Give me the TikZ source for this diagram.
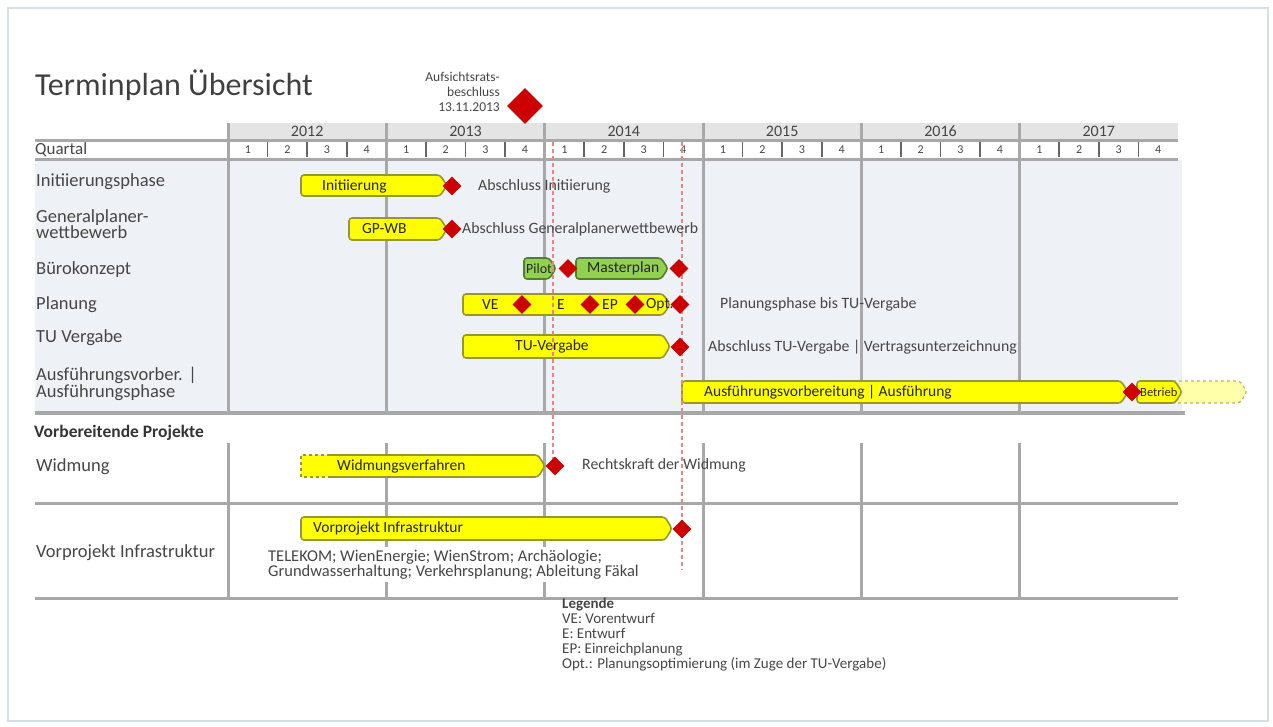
\documentclass[tikz,border=0pt]{standalone}
\usepackage{fontspec}
\setmainfont{Carlito}
\usetikzlibrary{shapes.geometric}

\definecolor{barfill}{RGB}{255,255,0}
\definecolor{barline}{RGB}{150,150,50}
\definecolor{openfill}{RGB}{255,255,170}
\definecolor{greenfill}{RGB}{146,208,80}
\definecolor{greenline}{RGB}{85,125,45}
\definecolor{msred}{RGB}{204,0,0}
\definecolor{gridgray}{RGB}{168,168,168}
\definecolor{panel}{RGB}{238,242,247}
\definecolor{headgray}{RGB}{228,228,228}
\definecolor{txt}{RGB}{70,70,70}
\definecolor{dashred}{RGB}{228,135,135}
\definecolor{framecol}{RGB}{212,222,230}

\tikzset{
  rowlabel/.style={anchor=west, align=left, inner sep=0pt, text=txt,
    font=\fontsize{18.5}{16}\selectfont},
  bartext/.style={anchor=west, inner sep=0pt, text=black!85,
    font=\fontsize{15.5}{16}\selectfont},
  note/.style={anchor=west, align=left, inner sep=0pt, text=txt,
    font=\fontsize{15.8}{15}\selectfont},
  yearlabel/.style={inner sep=0pt, text=txt, font=\fontsize{16}{16}\selectfont},
  qlabel/.style={inner sep=0pt, text=txt, font=\fontsize{12}{12}\selectfont},
  gridline/.style={gridgray, line width=3pt},
  qtick/.style={black!60, line width=1.6pt},
  yellowbar/.style={fill=barfill, draw=barline, line width=1.6pt, rounded corners=3},
  greenbar/.style={fill=greenfill, draw=greenline, line width=1.6pt, rounded corners=3},
  openbar/.style={fill=openfill, draw=barline!70, line width=1.2pt, dashed, rounded corners=3},
  milestone/.style={diamond, fill=msred, minimum size=19pt, inner sep=0pt},
  dashline/.style={dashred, line width=2pt, dash pattern=on 4pt off 3pt}
}

% bar with a blunt arrow end: [style] x-start, x-end, y-top, y-bottom
\newcommand{\taskbar}[5][yellowbar]{%
  \draw[#1] (#2,#4) -- ({#3-7},#4) -- (#3,{(#4+#5)/2}) -- ({#3-7},#5) -- (#2,#5) -- cycle;}

\begin{document}
\begin{tikzpicture}[x=1pt,y=-1pt]
  \def\Left{35}      % left edge of the table
  \def\Xzero{228}    % start of 2012
  \def\Yw{158.33}    % width of one year
  \def\Right{1178}   % end of 2017
  \useasboundingbox (0,0) rectangle (1273,726);
  \draw[framecol, line width=2pt] (8,8) rectangle (1268,721);

  % title and supervisory board decision
  \node[anchor=west, inner sep=0pt, text=black!75, font=\fontsize{32}{34}\selectfont]
    (title) at (35,85) {Terminplan Übersicht};
  \node[anchor=east, align=right, inner sep=0pt, text=txt, font=\fontsize{13.5}{15}\selectfont]
    (arText) at (500,92) {Aufsichtsrats-\\beschluss\\13.11.2013};

  % backgrounds
  \fill[panel] (\Left,160) rectangle (1182,411);
  \fill[headgray] (\Xzero,123) rectangle (\Right,140);

  % years and quarters
  \node[anchor=west, inner sep=0pt, text=txt, font=\fontsize{17}{16}\selectfont]
    (quartal) at (35,149.5) {Quartal};
  \foreach \y [count=\k from 0] in {2012,...,2017} {
    \node[yearlabel] (year\y) at ({\Xzero+(\k+0.5)*\Yw},131) {\y};
    \foreach \q in {1,...,4} {
      \node[qlabel] (q\y-\q) at ({\Xzero+\k*\Yw+(\q-0.5)*\Yw/4},149.5) {\q};
    }
    \foreach \q in {1,2,3} {
      \draw[qtick] ({\Xzero+\k*\Yw+\q*\Yw/4},142) -- ++(0,15);
    }
  }

  % grid
  \draw[gridline] (\Left,140.5) -- (\Right,140.5);
  \draw[gridline] (\Left,159) -- (\Right,159);
  \draw[gridline, line width=4pt] (\Left,413) -- (1185,413);
  \draw[gridline] (\Left,503) -- (\Right,503);
  \draw[gridline] (\Left,598) -- (\Right,598);
  \foreach \k in {0,...,5} {
    \draw[gridline] ({\Xzero+\k*\Yw},123) -- ({\Xzero+\k*\Yw},411);
    \draw[gridline] ({\Xzero+\k*\Yw},443) -- ({\Xzero+\k*\Yw},600);
  }

  % row labels
  \node[rowlabel] (lInit) at (36,182) {Initiierungsphase};
  \node[rowlabel] (lGP) at (36,224.5) {Generalplaner-\\wettbewerb};
  \node[rowlabel] (lBuero) at (36,270) {Bürokonzept};
  \node[rowlabel] (lPlan) at (36,305) {Planung};
  \node[rowlabel] (lTU) at (36,338) {TU Vergabe};
  \node[rowlabel] (lAus) at (36,383.5) {Ausführungsvorber. |\\Ausführungsphase};
  \node[rowlabel, font=\fontsize{17.5}{16}\bfseries, text=black!80] (lVorb) at (34,433) {Vorbereitende Projekte};
  \node[rowlabel] (lWid) at (36,467) {Widmung};
  \node[rowlabel] (lVP) at (36,553) {Vorprojekt Infrastruktur};

  % bars
  \taskbar{301}{447}{175}{196}
  \taskbar{349}{447}{218}{240}
  \taskbar[greenbar]{524}{556}{258}{279}
  \taskbar[greenbar]{576}{668}{258}{279}
  \taskbar{463}{670}{294}{315}
  \taskbar{463}{670}{335}{358}
  \taskbar[openbar]{1170}{1247}{381}{403}
  \taskbar{682}{1128}{381}{403}
  \taskbar{1137}{1182}{381}{403}
  \fill[barfill] (301,455) -- (538,455) -- (545,466) -- (538,477) -- (301,477) -- cycle;
  \draw[barline, line width=1.6pt, rounded corners=3] (330,455) -- (538,455) -- (545,466) -- (538,477) -- (330,477);
  \draw[barline, line width=1.6pt, dashed] (330,455) -- (301,455) -- (301,477) -- (330,477);
  \taskbar{301}{672}{517}{540}

  % texts in the bars
  \node[bartext] (tInit) at (322,186) {Initiierung};
  \node[bartext] (tGP) at (362,229) {GP-WB};
  \node[bartext, font=\fontsize{14}{16}\selectfont] (tPilot) at (526,268.5) {Pilot};
  \node[bartext] (tMaster) at (587,268.5) {Masterplan};
  \node[bartext] (tVE) at (482,304.5) {VE};
  \node[bartext] (tE) at (557,304.5) {E};
  \node[bartext] (tEP) at (602,304.5) {EP};
  \node[bartext] (tOpt) at (646,304.5) {Opt.};
  \node[bartext] (tTU) at (515,346.5) {TU-Vergabe};
  \node[bartext] (tAus) at (704,392) {Ausführungsvorbereitung | Ausführung};
  \node[bartext, font=\fontsize{12.5}{14}\selectfont] (tBetrieb) at (1140,392) {Betrieb};
  \node[bartext] (tWid) at (337,466) {Widmungsverfahren};
  \node[bartext] (tVP) at (313,528.5) {Vorprojekt Infrastruktur};

  % cut-off lines
  \draw[dashline] (553,142) -- (553,462);
  \draw[dashline] (682,142) -- (682,570);

  % milestones
  \node[milestone, minimum size=36pt] (msAR) at (525,106) {};
  \node[milestone] (msInit) at (452,186) {};
  \node[milestone] (msGP) at (452,229) {};
  \node[milestone] (msPilot) at (568,268.5) {};
  \node[milestone] (msMaster) at (679,268.5) {};
  \node[milestone] (msVE) at (522,304.5) {};
  \node[milestone] (msE) at (590,304.5) {};
  \node[milestone] (msEP) at (635,304.5) {};
  \node[milestone] (msPlan) at (680,304.5) {};
  \node[milestone] (msTU) at (680,347) {};
  \node[milestone] (msAus) at (1132,392) {};
  \node[milestone] (msWid) at (555,466) {};
  \node[milestone] (msVP) at (682,529) {};

  % notes
  \node[note] (nInit) at (478,186) {Abschluss Initiierung};
  \node[note] (nGP) at (462,229) {Abschluss Generalplanerwettbewerb};
  \node[note] (nPlan) at (720,304) {Planungsphase bis TU-Vergabe};
  \node[note] (nTU) at (708,347) {Abschluss TU-Vergabe | Vertragsunterzeichnung};
  \node[note] (nWid) at (582,465) {Rechtskraft der Widmung};
  \node[note, fill=white, inner sep=3pt, font=\fontsize{16.5}{15}\selectfont] (nVP) at (265,564.5)
    {TELEKOM; WienEnergie; WienStrom; Archäologie;\\Grundwasserhaltung; Verkehrsplanung; Ableitung Fäkal};

  % legend
  \node[note, anchor=north west, font=\fontsize{15}{15}\selectfont] (legend) at (562,598)
    {\textbf{Legende}\\VE: Vorentwurf\\E: Entwurf\\EP: Einreichplanung\\Opt.: Planungsoptimierung (im Zuge der TU-Vergabe)};
\end{tikzpicture}
\end{document}
